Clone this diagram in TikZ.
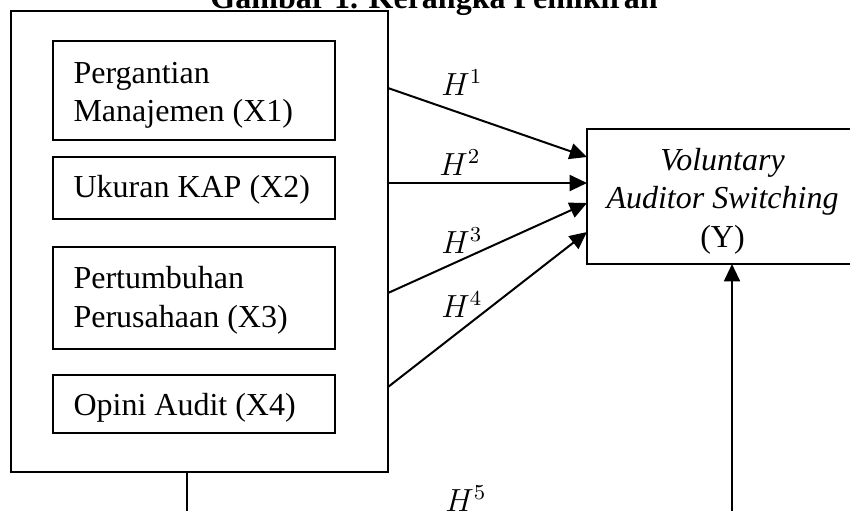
\documentclass[tikz,border=0pt]{standalone}
\usepackage{fontspec}
\setmainfont{Liberation Serif}
\usetikzlibrary{arrows.meta,fit}
\begin{document}
\begin{tikzpicture}[x=0.375pt,y=-0.375pt,
  box/.style={draw,line width=0.75pt,inner sep=0pt},
  lbl/.style={anchor=base west,inner sep=0pt,font=\fontsize{12}{14}\selectfont},
  ctr/.style={anchor=base,inner sep=0pt,font=\fontsize{12}{14}\selectfont},
  conn/.style={line width=0.75pt,-{Triangle[length=6.5pt,width=6pt]}}]
\useasboundingbox (0,0) rectangle (850,510);
\clip (0,0) rectangle (850,510);
% title
\node[ctr,font=\fontsize{12}{14}\selectfont\bfseries] (title) at (434,8) {Gambar 1. Kerangka Pemikiran};
% boxes
\node[box,fit={(11,11) (388,472)}] (outer) {};
\node[box,fit={(52.5,41) (335,140)}] (x1box) {};
\node[box,fit={(52.5,157) (335,219)}] (x2box) {};
\node[box,fit={(52.5,247) (335,349)}] (x3box) {};
\node[box,fit={(52.5,375) (335,433)}] (x4box) {};
\node[box,fit={(587,129) (858,264)}] (ybox) {};
% box texts
\node[lbl] (x1a) at (73,83) {Pergantian};
\node[lbl] (x1b) at (73,121) {Manajemen (X1)};
\node[lbl] (x2t) at (73,197) {Ukuran KAP (X2)};
\node[lbl] (x3a) at (73,288) {Pertumbuhan};
\node[lbl] (x3b) at (73,327) {Perusahaan (X3)};
\node[lbl] (x4t) at (73,415) {Opini Audit (X4)};
\node[ctr,font=\fontsize{12}{14}\selectfont\itshape] (y1) at (722.5,170) {Voluntary};
\node[ctr,font=\fontsize{12}{14}\selectfont\itshape] (y2) at (722.5,208) {Auditor Switching};
\node[ctr] (y3) at (722.5,247) {(Y)};
% connector end points
\coordinate (s1) at (388,88);
\coordinate (s2) at (388,183);
\coordinate (s3) at (388,293);
\coordinate (s4) at (388,387);
\coordinate (t1) at (587,157);
\coordinate (t2) at (587,183);
\coordinate (t3) at (587,203);
\coordinate (t4) at (587,232);
\coordinate (b1) at (187,472);
\coordinate (b2) at (732,264);
\draw[conn] (s1) -- (t1);
\draw[conn] (s2) -- (t2);
\draw[conn] (s3) -- (t3);
\draw[conn] (s4) -- (t4);
\draw[conn] (b1) -- (187,540) -| (b2);
% hypothesis labels
\node[ctr] (h1) at (462,95) {$H^1$};
\node[ctr] (h2) at (460,175) {$H^2$};
\node[ctr] (h3) at (462,253) {$H^3$};
\node[ctr] (h4) at (462,317) {$H^4$};
\node[ctr] (h5) at (466,511) {$H^5$};
\end{tikzpicture}
\end{document}
